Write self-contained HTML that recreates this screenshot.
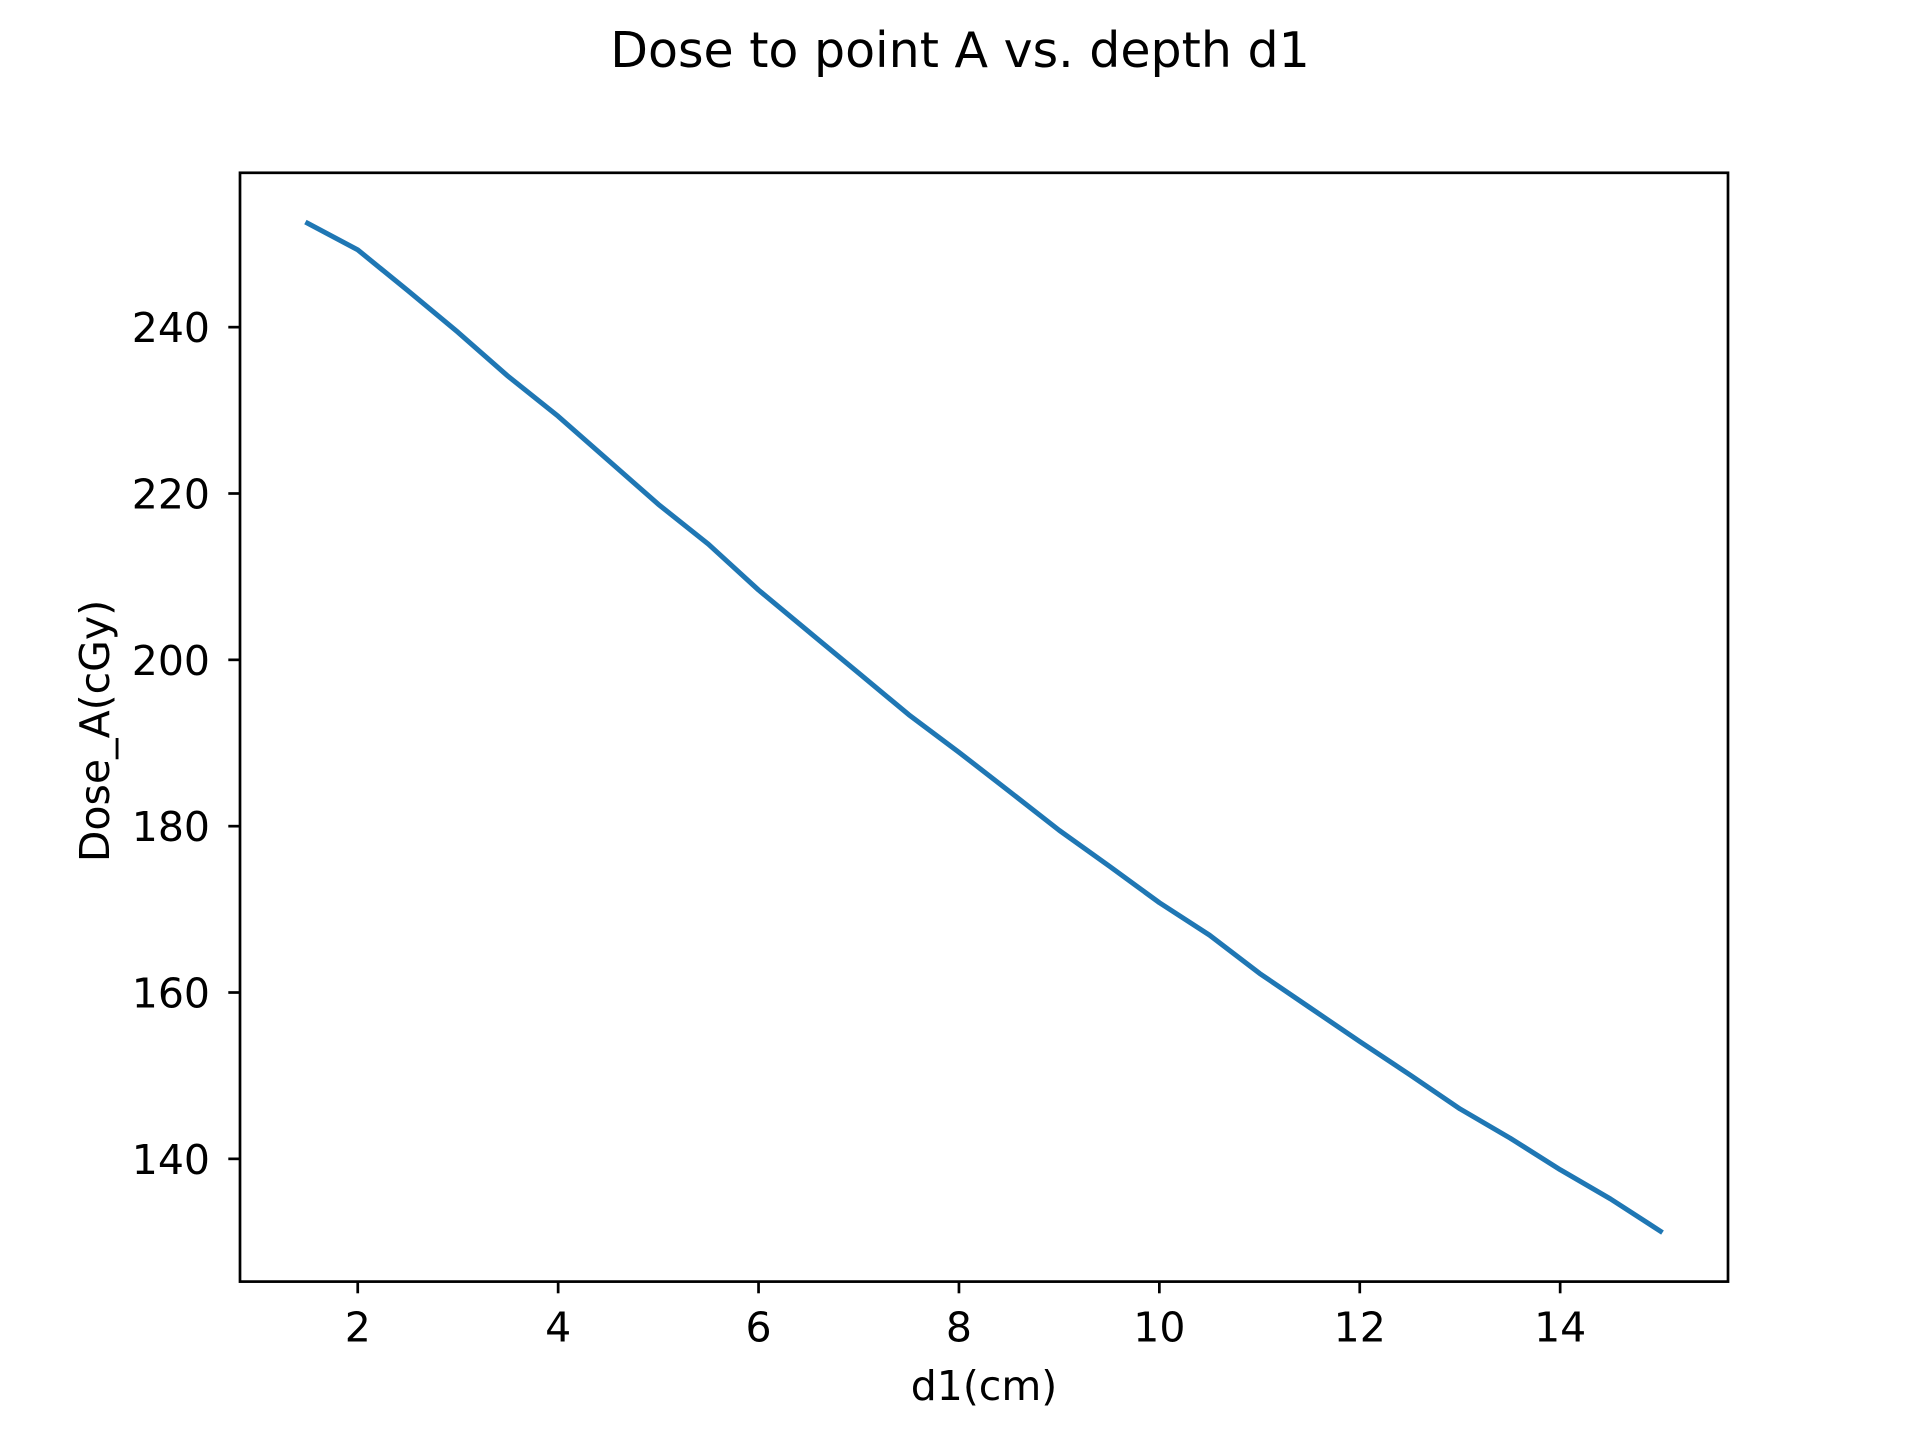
<!DOCTYPE html>
<html><head><meta charset="utf-8"><style>
html,body{margin:0;padding:0;background:#fff}
svg text{font-family:"DejaVu Sans","Liberation Sans",sans-serif;fill:#000}
</style></head><body>
<svg id="chart" width="1920" height="1440" viewBox="0 0 1920 1440" xmlns="http://www.w3.org/2000/svg">
<rect width="1920" height="1440" fill="#fff"/>
<text x="960" y="67" font-size="49" text-anchor="middle">Dose to point A vs. depth d1</text>
<g id="ticks"></g>
<path id="line" fill="none" stroke="#1f77b4" stroke-width="5" stroke-linejoin="round" stroke-linecap="square"/>
<rect x="240" y="172.8" width="1488" height="1108.8" fill="none" stroke="#000" stroke-width="2.7"/>
<text x="984" y="1400" font-size="41" text-anchor="middle">d1(cm)</text>
<text transform="translate(109,731) rotate(-90)" font-size="41" text-anchor="middle">Dose_A(cGy)</text>
</svg>
<script>
const depths=[1.5,2,2.5,3,3.5,4,4.5,5,5.5,6,6.5,7,7.5,8,8.5,9,9.5,10,10.5,11,11.5,12,12.5,13,13.5,14,14.5,15];
const doses=[252.5,249.3,244.4,239.4,234.1,229.3,224,218.7,213.9,208.4,203.4,198.4,193.4,188.9,184.2,179.5,175.2,170.8,166.9,162.3,158.2,154.1,150.1,146,142.5,138.7,135.2,131.3];
const xTicks=[2,4,6,8,10,12,14];
const yTicks=[140,160,180,200,220,240];
const L=240,R=1728,T=172.8,B=1281.6;
const xmin=Math.min(...depths),xmax=Math.max(...depths),xp=(xmax-xmin)*0.05;
const ymin=Math.min(...doses),ymax=Math.max(...doses),yp=(ymax-ymin)*0.05;
const X=v=>L+(v-(xmin-xp))/((xmax+xp)-(xmin-xp))*(R-L);
const Y=v=>B-(v-(ymin-yp))/((ymax+yp)-(ymin-yp))*(B-T);
const NS="http://www.w3.org/2000/svg";
const g=document.getElementById('ticks');
xTicks.forEach(t=>{
  const l=document.createElementNS(NS,'line');
  l.setAttribute('x1',X(t));l.setAttribute('x2',X(t));l.setAttribute('y1',B);l.setAttribute('y2',B+11.7);
  l.setAttribute('stroke','#000');l.setAttribute('stroke-width','2.7');
  
  
  g.appendChild(l);
  const s=document.createElementNS(NS,'text');
  s.setAttribute('x',X(t));s.setAttribute('y',B+60);s.setAttribute('font-size','41');s.setAttribute('text-anchor','middle');
  s.textContent=t;
  
  
  g.appendChild(s);
});
yTicks.forEach(t=>{
  const l=document.createElementNS(NS,'line');
  l.setAttribute('x1',L-11.7);l.setAttribute('x2',L);l.setAttribute('y1',Y(t));l.setAttribute('y2',Y(t));
  l.setAttribute('stroke','#000');l.setAttribute('stroke-width','2.7');
  
  
  g.appendChild(l);
  const s=document.createElementNS(NS,'text');
  s.setAttribute('x',L-30);s.setAttribute('y',Y(t)+15);s.setAttribute('font-size','41');s.setAttribute('text-anchor','end');
  s.textContent=t;
  
  
  g.appendChild(s);
});
document.getElementById('line').setAttribute('d',depths.map((d,i)=>(i?'L':'M')+X(d).toFixed(1)+' '+Y(doses[i]).toFixed(1)).join(' '));
</script>
</body></html>
